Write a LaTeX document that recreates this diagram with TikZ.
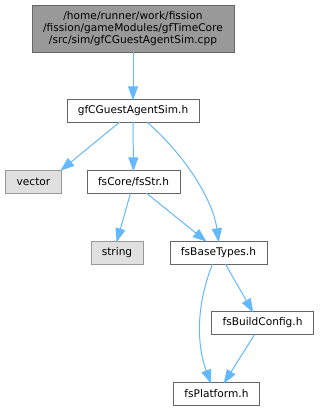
\documentclass[tikz,border=0pt]{standalone}
\usepackage{fontspec}
\setmainfont{DejaVu Sans}
\usepackage{tikz}
\usetikzlibrary{arrows.meta,positioning}

\definecolor{edgeblue}{RGB}{99,184,255}

\tikzset{
  file/.style={draw=black!60,fill=white,inner xsep=11pt,inner ysep=0pt,minimum height=23pt,font=\fontsize{10.6}{12}\selectfont},
  sysfile/.style={file,draw=black!40,fill=black!12},
  mainfile/.style={file,draw=black!60,fill=black!40,align=center,minimum height=47pt},
  dep/.style={draw=edgeblue,line width=1pt,-{Triangle[length=14pt,width=10pt,fill=edgeblue]},shorten >=-1.5pt}
}

\begin{document}
\begin{tikzpicture}[x=1pt,y=-1pt]
    \useasboundingbox (0,0) rectangle (320,411);
    \path
    (133,28.5) node[mainfile](src){/home/runner/work/fission\\/fission/gameModules/gfTimeCore\\/src/sim/gfCGuestAgentSim.cpp}
    (133,110.5) node[file](sim){gfCGuestAgentSim.h}
    (33.5,181.5) node[sysfile](vec){vector}
    (133.5,181.5) node[file](str){fsCore/fsStr.h}
    (117,252.5) node[sysfile](string){string}
    (218.5,252.5) node[file](base){fsBaseTypes.h}
    (262.5,323) node[file](config){fsBuildConfig.h}
    (216.5,394) node[file](platform){fsPlatform.h};

    % include edges
    \draw[dep] (src) -- (sim);
    \draw[dep] (sim.south west) ++(53,0) -- (vec.north east);
    \draw[dep] (sim) -- (str);
    \draw[dep] (sim.south) ++(14,0) .. controls (185,155) and (213,200) .. (base.north);
    \draw[dep] (str.south) ++(-3,0) -- (string.north);
    \draw[dep] (str.south) ++(13,0) -- ([xshift=-13pt]base.north);
    \draw[dep] (base.south) ++(-6,0) .. controls (198,300) and (195,340) .. ([xshift=-6pt]platform.north);
    \draw[dep] (base.south) ++(7,0) -- ([xshift=-10pt]config.north);
    \draw[dep] (config.south) ++(-8,0) -- ([xshift=8pt]platform.north);
  \end{tikzpicture}
\end{document}
